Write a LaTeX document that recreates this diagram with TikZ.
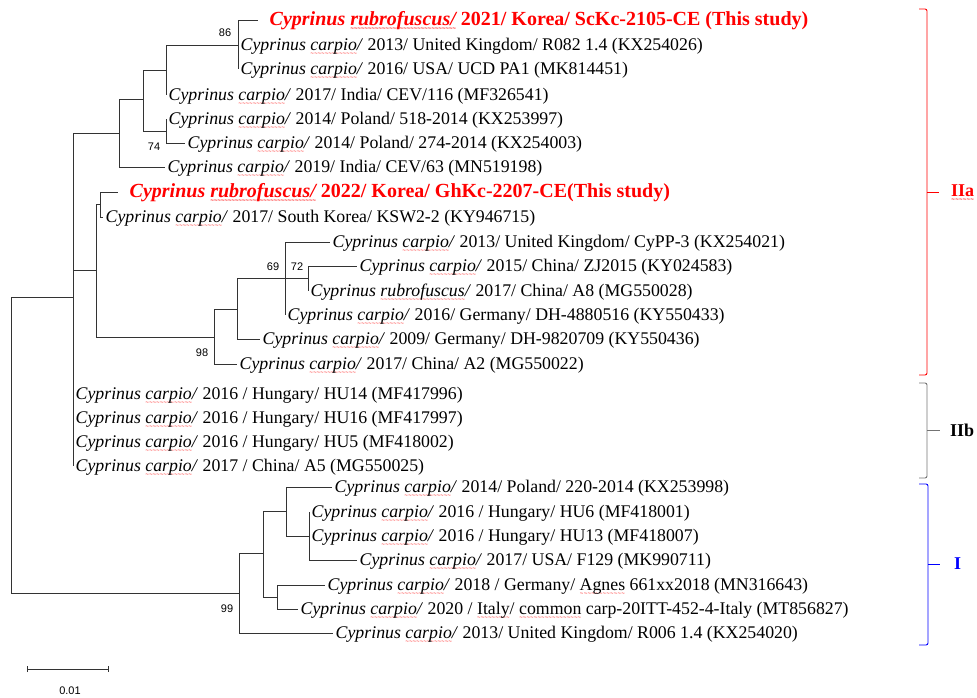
\documentclass[tikz,border=0pt]{standalone}
\usepackage{fontspec}
\setmainfont{Liberation Serif}
\newfontfamily\lblfont{Liberation Sans}
\usepackage{tikz}
\usetikzlibrary{arrows.meta}

% red wavy underline (spell-check marks)
\newcommand\sq[1]{\setbox0\hbox{#1}\leavevmode\rlap{\lower5pt\hbox to\wd0{\color{red}\fontsize{6}{6}\lblfont\xleaders\hbox{\char`\~}\hfil}}\box0\relax}
\newcommand\ccarp{\textit{Cyprinus \sq{carpio}/}}

\tikzset{
  br/.style={line width=0.9pt, black!80},
  leaf/.style={anchor=base west, inner sep=0pt, xshift=2.5pt, yshift=-5.5pt,
    font=\fontsize{17.8}{20}\selectfont},
  ownleaf/.style={leaf, text=red, xshift=9pt, font=\bfseries\fontsize{20}{22}\selectfont},
  bs/.style={inner sep=0pt, font=\lblfont\fontsize{11}{13}\selectfont},
  clade/.style={line width=0.9pt, rounded corners=2pt},
  cladename/.style={anchor=west, inner sep=0pt, font=\bfseries\fontsize{18}{20}\selectfont}
}

\begin{document}
\begin{tikzpicture}[x=1pt, y=-1pt]
  \useasboundingbox (0,0) rectangle (977,697);

  % internal nodes
  \coordinate (root) at (11,445);
  \coordinate (nA) at (73,297);
  \coordinate (nB) at (119,133);
  \coordinate (nD) at (143,99);
  \coordinate (nE) at (166,70);
  \coordinate (n86) at (238,45);
  \coordinate (n74) at (166,131);
  \coordinate (nC) at (96,270);
  \coordinate (nH) at (100,204);
  \coordinate (n98) at (214,337);
  \coordinate (nM) at (237,309);
  \coordinate (n69) at (285,278);
  \coordinate (n72) at (308,278);
  \coordinate (n99) at (239,593);
  \coordinate (nS) at (263,553);
  \coordinate (nT) at (286,511);
  \coordinate (nV) at (309,536);
  \coordinate (nU) at (277,597);

  % tips
  \coordinate (t1) at (258,20);
  \coordinate (t2) at (238,45);
  \coordinate (t3) at (238,69);
  \coordinate (t4) at (166,95);
  \coordinate (t5) at (166,119);
  \coordinate (t6) at (185,143);
  \coordinate (t7) at (165,167);
  \coordinate (t8) at (118,192);
  \coordinate (t9) at (103,217);
  \coordinate (t10) at (330,242);
  \coordinate (t11) at (357,266);
  \coordinate (t12) at (308,291);
  \coordinate (t13) at (285,315);
  \coordinate (t14) at (260,339);
  \coordinate (t15) at (237,364);
  \coordinate (t16) at (73,394);
  \coordinate (t17) at (73,418);
  \coordinate (t18) at (73,442);
  \coordinate (t19) at (73,466);
  \coordinate (t20) at (332,487);
  \coordinate (t21) at (309,512);
  \coordinate (t22) at (309,536);
  \coordinate (t23) at (357,560);
  \coordinate (t24) at (325,585);
  \coordinate (t25) at (298,609);
  \coordinate (t26) at (333,633);

  % branches
  \draw[br] (root) |- (nA);
  \draw[br] (root) |- (n99);
  \draw[br] (nA) |- (nB);
  \draw[br] (nA) |- (nC);
  \draw[br] (nA) |- (t19);
  \draw[br] (nB) |- (nD);
  \draw[br] (nB) |- (t7);
  \draw[br] (nD) |- (nE);
  \draw[br] (nD) |- (n74);
  \draw[br] (nE) |- (n86);
  \draw[br] (nE) |- (t4);
  \draw[br] (n86) |- (t1);
  \draw[br] (n86) |- (t3);
  \draw[br] (n74) |- (t5);
  \draw[br] (n74) |- (t6);
  \draw[br] (nC) |- (nH);
  \draw[br] (nC) |- (n98);
  \draw[br] (nH) |- (t8);
  \draw[br] (nH) |- (t9);
  \draw[br] (n98) |- (nM);
  \draw[br] (n98) |- (t15);
  \draw[br] (nM) |- (n69);
  \draw[br] (nM) |- (t14);
  \draw[br] (n69) |- (t10);
  \draw[br] (n69) -- (n72);
  \draw[br] (n69) |- (t13);
  \draw[br] (n72) |- (t11);
  \draw[br] (n72) |- (t12);
  \draw[br] (n99) |- (nS);
  \draw[br] (n99) |- (t26);
  \draw[br] (nS) |- (nT);
  \draw[br] (nS) |- (nU);
  \draw[br] (nT) |- (t20);
  \draw[br] (nT) |- (nV);
  \draw[br] (nV) |- (t21);
  \draw[br] (nV) |- (t23);
  \draw[br] (nU) |- (t24);
  \draw[br] (nU) |- (t25);

  % bootstrap values
  \node[bs] (b86) at (225,33) {86};
  \node[bs] (b74) at (154,147) {74};
  \node[bs] (b69) at (273,267) {69};
  \node[bs] (b72) at (297,267) {72};
  \node[bs] (b98) at (202,353) {98};
  \node[bs] (b99) at (227,609) {99};

  % taxa
  \node[ownleaf] (l1) at (t1) {\textit{Cyprinus \sq{rubrofuscus/}} 2021/ Korea/ ScKc-2105-CE (This study)};
  \node[leaf] (l2) at (t2) {\ccarp{} 2013/ United Kingdom/ R082 1.4 (KX254026)};
  \node[leaf] (l3) at (t3) {\ccarp{} 2016/ USA/ UCD PA1 (MK814451)};
  \node[leaf] (l4) at (t4) {\ccarp{} 2017/ India/ CEV/116 (MF326541)};
  \node[leaf] (l5) at (t5) {\ccarp{} 2014/ Poland/ 518-2014 (KX253997)};
  \node[leaf] (l6) at (t6) {\ccarp{} 2014/ Poland/ 274-2014 (KX254003)};
  \node[leaf] (l7) at (t7) {\ccarp{} 2019/ India/ CEV/63 (MN519198)};
  \node[ownleaf] (l8) at (t8) {\textit{Cyprinus \sq{rubrofuscus/}} 2022/ Korea/ GhKc-2207-CE(This study)};
  \node[leaf] (l9) at (t9) {\ccarp{} 2017/ South Korea/ KSW2-2 (KY946715)};
  \node[leaf] (l10) at (t10) {\ccarp{} 2013/ United Kingdom/ CyPP-3 (KX254021)};
  \node[leaf] (l11) at (t11) {\ccarp{} 2015/ China/ ZJ2015 (KY024583)};
  \node[leaf] (l12) at (t12) {\textit{Cyprinus \sq{rubrofuscus}/} 2017/ China/ A8 (MG550028)};
  \node[leaf] (l13) at (t13) {\ccarp{} 2016/ Germany/ DH-4880516 (KY550433)};
  \node[leaf] (l14) at (t14) {\ccarp{} 2009/ Germany/ DH-9820709 (KY550436)};
  \node[leaf] (l15) at (t15) {\ccarp{} 2017/ China/ A2 (MG550022)};
  \node[leaf] (l16) at (t16) {\ccarp{} 2016 / Hungary/ HU14 (MF417996)};
  \node[leaf] (l17) at (t17) {\ccarp{} 2016 / Hungary/ HU16 (MF417997)};
  \node[leaf] (l18) at (t18) {\ccarp{} 2016 / Hungary/ HU5 (MF418002)};
  \node[leaf] (l19) at (t19) {\ccarp{} 2017 / China/ A5 (MG550025)};
  \node[leaf] (l20) at (t20) {\ccarp{} 2014/ Poland/ 220-2014 (KX253998)};
  \node[leaf] (l21) at (t21) {\ccarp{} 2016 / Hungary/ HU6 (MF418001)};
  \node[leaf] (l22) at (t22) {\ccarp{} 2016 / Hungary/ HU13 (MF418007)};
  \node[leaf] (l23) at (t23) {\ccarp{} 2017/ USA/ F129 (MK990711)};
  \node[leaf] (l24) at (t24) {\ccarp{} 2018 / Germany/ \sq{Agnes} 661xx2018 (MN316643)};
  \node[leaf] (l25) at (t25) {\ccarp{} 2020 / \sq{Italy}/ \sq{common} carp-20ITT-452-4-Italy (MT856827)};
  \node[leaf] (l26) at (t26) {\ccarp{} 2013/ United Kingdom/ R006 1.4 (KX254020)};

  % clade brackets
  \draw[clade, red] (919,9) -- (927,9) -- (927,375) -- (919,375);
  \draw[clade, red] (927,192) -- (939,192);
  \node[cladename, text=red] (IIa) at (951,193) {\sq{IIa}};
  \draw[clade, black!55] (919,383) -- (927,383) -- (927,478) -- (919,478);
  \draw[clade, black!55] (927,430) -- (940,430);
  \node[cladename] (IIb) at (950,430) {IIb};
  \draw[clade, blue] (919,484) -- (928,484) -- (928,645) -- (919,645);
  \draw[clade, blue] (928,564) -- (940,564);
  \node[cladename, text=blue] (I) at (954,564) {I};

  % scale bar
  \coordinate (sb0) at (27,669);
  \coordinate (sb1) at (109,669);
  \draw[br, {Bar[width=6pt]}-{Bar[width=6pt]}] (sb0) -- (sb1);
  \node[bs] (sbl) at (70,691) {0.01};
\end{tikzpicture}
\end{document}
